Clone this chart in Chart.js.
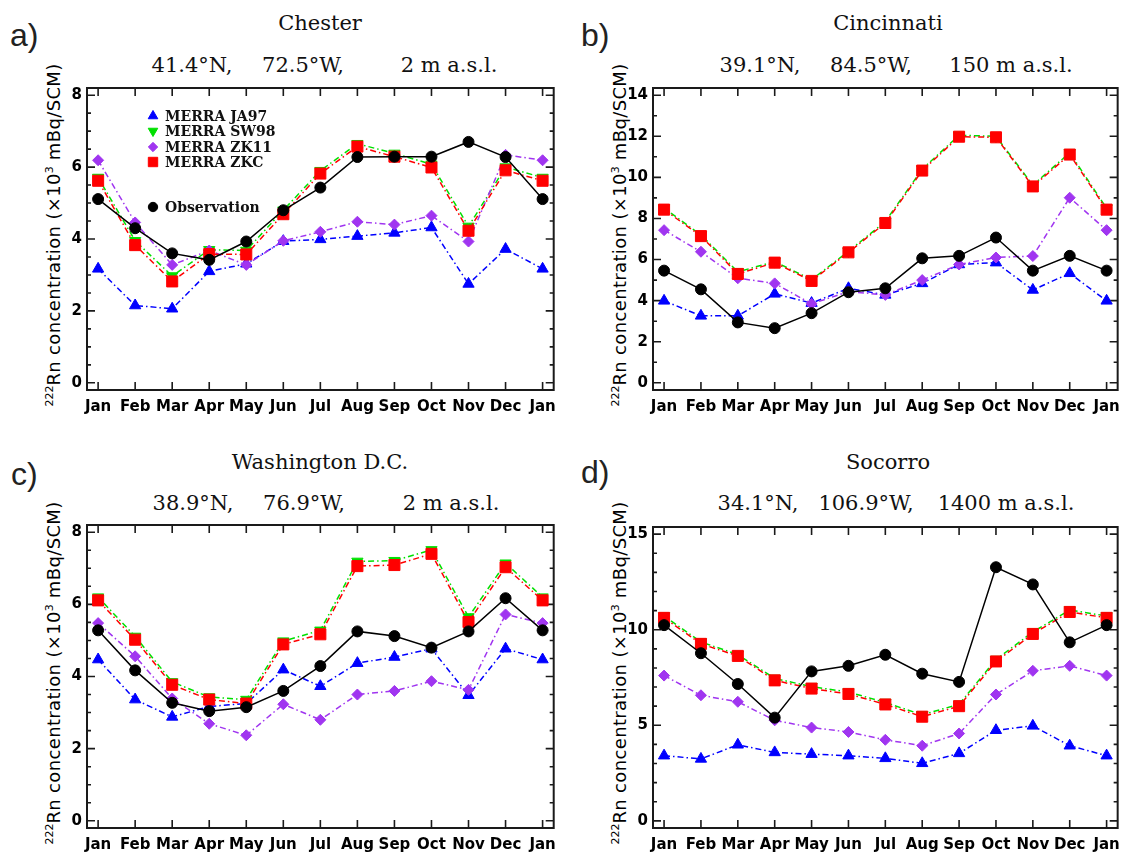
<!DOCTYPE html>
<html>
<head>
<meta charset="utf-8">
<script src="https://cdn.jsdelivr.net/npm/chart.js@4.4.1/dist/chart.umd.min.js"></script>
<style>
body { margin: 0; background: #fff; width: 1128px; height: 856px; position: relative; overflow: hidden; }
.panel { position: absolute; }
.letter { position: absolute; font: 32px "Liberation Sans"; color: #222; line-height: 1; }
.site, .coord, .ytitle { position: absolute; white-space: pre; color: #111; line-height: 1; }
.site, .coord { transform: translate(-50%, -50%); font: 21px "DejaVu Serif"; }
.ytitle { transform: translate(-50%, -50%) rotate(-90deg); font: 18px "DejaVu Sans"; letter-spacing: 0.35px; color: #000; }
.ytitle sup { font-size: 11px; letter-spacing: 0; vertical-align: 7px; line-height: 0; }
</style>
</head>
<body>

<div class="letter" style="left:10px;top:19px">a)</div>
<div class="site" style="left:320px;top:23px">Chester</div>
<div class="coord" style="left:192px;top:65px">41.4°N,</div>
<div class="coord" style="left:303px;top:65px">72.5°W,</div>
<div class="coord" style="left:449px;top:65px">2 m a.s.l.</div>
<div class="ytitle" style="left:53px;top:235px"><sup>222</sup>Rn concentration (×10<sup>3</sup> mBq/SCM)</div>

<div class="letter" style="left:581px;top:19px">b)</div>
<div class="site" style="left:888px;top:23px">Cincinnati</div>
<div class="coord" style="left:760px;top:65px">39.1°N,</div>
<div class="coord" style="left:871px;top:65px">84.5°W,</div>
<div class="coord" style="left:1011px;top:65px">150 m a.s.l.</div>
<div class="ytitle" style="left:619px;top:235px"><sup>222</sup>Rn concentration (×10<sup>3</sup> mBq/SCM)</div>

<div class="letter" style="left:11px;top:458px">c)</div>
<div class="site" style="left:320px;top:462px">Washington D.C.</div>
<div class="coord" style="left:193px;top:503px">38.9°N,</div>
<div class="coord" style="left:304px;top:503px">76.9°W,</div>
<div class="coord" style="left:451px;top:503px">2 m a.s.l.</div>
<div class="ytitle" style="left:53px;top:673px"><sup>222</sup>Rn concentration (×10<sup>3</sup> mBq/SCM)</div>

<div class="letter" style="left:581px;top:456px">d)</div>
<div class="site" style="left:888px;top:462px">Socorro</div>
<div class="coord" style="left:758px;top:503px">34.1°N,</div>
<div class="coord" style="left:866px;top:503px">106.9°W,</div>
<div class="coord" style="left:1006px;top:503px">1400 m a.s.l.</div>
<div class="ytitle" style="left:619px;top:673px"><sup>222</sup>Rn concentration (×10<sup>3</sup> mBq/SCM)</div>

<div class="panel" style="left:0;top:0"><canvas id="chA" width="564" height="430"></canvas></div>
<div class="panel" style="left:564px;top:0"><canvas id="chB" width="564" height="430"></canvas></div>
<div class="panel" style="left:0;top:430px"><canvas id="chC" width="564" height="426"></canvas></div>
<div class="panel" style="left:564px;top:430px"><canvas id="chD" width="564" height="426"></canvas></div>

<script>
// months along the x axis (Jan repeated at the end)
const months = ["Jan", "Feb", "Mar", "Apr", "May", "Jun", "Jul", "Aug", "Sep", "Oct", "Nov", "Dec", "Jan"];
const seriesNames = ["MERRA JA97", "MERRA SW98", "MERRA ZK11", "MERRA ZKC", "Observation"];

// a) Chester
const chesterJA97 = [3.17, 2.15, 2.06, 3.10, 3.31, 3.94, 3.99, 4.08, 4.17, 4.32, 2.75, 3.72, 3.17];
const chesterSW98 = [5.71, 3.95, 2.97, 3.70, 3.68, 4.80, 5.90, 6.65, 6.38, 6.08, 4.35, 6.00, 5.71];
const chesterZK11 = [6.19, 4.46, 3.28, 3.68, 3.28, 3.95, 4.20, 4.48, 4.40, 4.65, 3.93, 6.34, 6.19];
const chesterZKC  = [5.62, 3.83, 2.82, 3.58, 3.57, 4.69, 5.82, 6.57, 6.29, 5.99, 4.23, 5.91, 5.62];
const chesterObs  = [5.11, 4.30, 3.60, 3.42, 3.93, 4.80, 5.43, 6.28, 6.29, 6.29, 6.70, 6.28, 5.11];

// b) Cincinnati
const cincyJA97 = [3.99, 3.26, 3.26, 4.33, 3.88, 4.60, 4.28, 4.84, 5.76, 5.85, 4.52, 5.33, 3.99];
const cincySW98 = [8.50, 7.20, 5.40, 5.90, 5.02, 6.40, 7.85, 10.40, 12.05, 12.00, 9.62, 11.20, 8.50];
const cincyZK11 = [7.43, 6.38, 5.09, 4.84, 3.84, 4.44, 4.28, 5.00, 5.76, 6.10, 6.17, 9.01, 7.43];
const cincyZKC  = [8.43, 7.14, 5.30, 5.85, 4.96, 6.35, 7.78, 10.33, 11.98, 11.95, 9.56, 11.11, 8.43];
const cincyObs  = [5.46, 4.55, 2.94, 2.66, 3.39, 4.41, 4.60, 6.06, 6.18, 7.07, 5.46, 6.18, 5.46];

// c) Washington D.C.
const washJA97 = [4.47, 3.36, 2.88, 3.17, 3.25, 4.19, 3.73, 4.37, 4.54, 4.77, 3.48, 4.77, 4.47];
const washSW98 = [6.20, 5.11, 3.85, 3.43, 3.36, 4.98, 5.28, 7.19, 7.21, 7.51, 5.65, 7.14, 6.20];
const washZK11 = [5.48, 4.56, 3.39, 2.69, 2.37, 3.23, 2.80, 3.50, 3.60, 3.87, 3.63, 5.72, 5.48];
const washZKC  = [6.11, 5.02, 3.77, 3.36, 3.25, 4.89, 5.17, 7.06, 7.09, 7.40, 5.51, 7.03, 6.11];
const washObs  = [5.28, 4.17, 3.27, 3.04, 3.15, 3.60, 4.29, 5.25, 5.12, 4.80, 5.25, 6.17, 5.28];

// d) Socorro
const socorroJA97 = [3.41, 3.24, 3.98, 3.58, 3.49, 3.41, 3.27, 3.01, 3.53, 4.74, 4.97, 3.93, 3.41];
const socorroSW98 = [10.72, 9.36, 8.70, 7.45, 7.02, 6.74, 6.19, 5.55, 6.10, 8.44, 9.88, 11.03, 10.72];
const socorroZK11 = [7.60, 6.57, 6.23, 5.26, 4.88, 4.65, 4.24, 3.93, 4.57, 6.61, 7.85, 8.11, 7.60];
const socorroZKC  = [10.62, 9.26, 8.63, 7.35, 6.92, 6.64, 6.09, 5.45, 6.00, 8.34, 9.78, 10.93, 10.62];
const socorroObs  = [10.24, 8.77, 7.16, 5.40, 7.82, 8.11, 8.69, 7.70, 7.27, 13.27, 12.37, 9.34, 10.24];

// y tick labels per panel
const yTicksA = [0, 2, 4, 6, 8];
const yTicksB = [0, 2, 4, 6, 8, 10, 12, 14];
const yTicksC = [0, 2, 4, 6, 8];
const yTicksD = [0, 5, 10, 15];

// line styles for the five series
const styles = [
    { color: "#0000ff", pointStyle: "triangle", radius: 6.5, rotation: 0, dash: [6, 3, 1.5, 3], dashOffset: 0, order: 4 },
    { color: "#00e000", pointStyle: "triangle", radius: 6.5, rotation: 180, dash: [6, 3, 1.5, 3], dashOffset: 5, order: 3 },
    { color: "#a035f0", pointStyle: "rectRot", radius: 5.5, rotation: 0, dash: [6, 3, 1.5, 3], dashOffset: 0, order: 2 },
    { color: "#ff0000", pointStyle: "rect", radius: 7.8, rotation: 0, dash: [6, 3, 1.5, 3], dashOffset: 0, order: 1 },
    { color: "#000000", pointStyle: "circle", radius: 5.5, rotation: 0, dash: [], dashOffset: 0, order: 0 }
];

// box with inward ticks on all four sides
const framePlugin = {
    id: "frame",
    beforeDatasetsDraw(chart, args, opts) {
        const { ctx, chartArea: a, scales: { x, y } } = chart;
        ctx.save();
        ctx.strokeStyle = "#1a1a1a";
        ctx.lineWidth = 1.6;
        ctx.beginPath();
        x.ticks.forEach(t => {
            const px = x.getPixelForValue(t.value);
            ctx.moveTo(px, a.bottom); ctx.lineTo(px, a.bottom - 8);
            ctx.moveTo(px, a.top); ctx.lineTo(px, a.top + 8);
        });
        const n = Math.round(opts.top / opts.minor);
        for (let i = 0; i <= n; i++) {
            const v = i * opts.minor;
            const isMajor = Math.abs(v / opts.major - Math.round(v / opts.major)) < 1e-6;
            const len = isMajor ? 8 : 4;
            const py = y.getPixelForValue(v);
            ctx.moveTo(a.left, py); ctx.lineTo(a.left + len, py);
            ctx.moveTo(a.right, py); ctx.lineTo(a.right - len, py);
        }
        ctx.stroke();
        ctx.lineWidth = 2;
        ctx.strokeRect(a.left, a.top, a.right - a.left, a.bottom - a.top);
        ctx.restore();
    }
};

// legend drawn inside panel a
const innerLegend = {
    id: "innerLegend",
    afterDraw(chart, args, opts) {
        if (!opts.rows) return;
        const ctx = chart.ctx;
        ctx.save();
        ctx.font = "bold 14px 'DejaVu Serif'";
        ctx.textBaseline = "middle";
        chart.data.datasets.forEach((ds, i) => {
            const rowY = opts.rows[i];
            ctx.fillStyle = ds.pointBackgroundColor;
            ctx.strokeStyle = ds.pointBackgroundColor;
            Chart.helpers.drawPoint(ctx, {
                pointStyle: ds.pointStyle,
                radius: ds.pointRadius * 0.85,
                rotation: ds.pointRotation,
                borderWidth: 1
            }, opts.markerX, rowY);
            ctx.fillStyle = "#111";
            ctx.fillText(ds.label, opts.textX, rowY + 1);
        });
        ctx.restore();
    }
};

function makePanel(id, area, w, h, yTicks, minor, series, legend) {
    const top = yTicks[yTicks.length - 1];
    const pad = top * 0.025;
    const datasets = series.map((vals, i) => ({
        label: seriesNames[i],
        data: vals.map((v, k) => ({ x: k, y: v })),
        borderColor: styles[i].color,
        borderWidth: 1.5,
        borderDash: styles[i].dash,
        borderDashOffset: styles[i].dashOffset,
        pointStyle: styles[i].pointStyle,
        pointRadius: styles[i].radius,
        pointRotation: styles[i].rotation,
        pointBackgroundColor: styles[i].color,
        pointBorderColor: styles[i].color,
        pointBorderWidth: 1,
        tension: 0,
        fill: false,
        order: styles[i].order
    }));

    new Chart(document.getElementById(id), {
        type: "line",
        data: { datasets: datasets },
        options: {
            responsive: false,
            animation: false,
            devicePixelRatio: 1,
            layout: { padding: { left: 0, top: area.top, right: w - area.right, bottom: 0 } },
            plugins: {
                legend: { display: false },
                tooltip: { enabled: false },
                frame: { top: top, major: yTicks[1] - yTicks[0], minor: minor },
                innerLegend: legend || {}
            },
            scales: {
                x: {
                    type: "linear",
                    min: -0.3,
                    max: 12.3,
                    afterBuildTicks: scale => { scale.ticks = months.map((m, i) => ({ value: i })); },
                    afterFit: scale => { scale.height = h - area.bottom; },
                    grid: { display: false, drawTicks: false },
                    border: { display: false },
                    ticks: {
                        autoSkip: false,
                        maxRotation: 0,
                        padding: 8,
                        color: "#000",
                        font: { family: "DejaVu Sans", size: 15, weight: "bold" },
                        callback: value => months[Math.round(value)]
                    }
                },
                y: {
                    min: -pad,
                    max: top + pad,
                    afterBuildTicks: scale => { scale.ticks = yTicks.map(v => ({ value: v })); },
                    afterFit: scale => { scale.width = area.left; },
                    grid: { display: false, drawTicks: false },
                    border: { display: false },
                    ticks: {
                        padding: 5,
                        color: "#000",
                        font: { family: "DejaVu Sans", size: 15, weight: "bold" }
                    }
                }
            }
        },
        plugins: [framePlugin, innerLegend]
    });
}

makePanel("chA", { left: 87, right: 555, top: 88, bottom: 390 }, 564, 430, yTicksA, 0.5,
    [chesterJA97, chesterSW98, chesterZK11, chesterZKC, chesterObs],
    { rows: [116, 131, 147, 162, 207], markerX: 153, textX: 165 });
makePanel("chB", { left: 89, right: 557, top: 88, bottom: 390 }, 564, 430, yTicksB, 1,
    [cincyJA97, cincySW98, cincyZK11, cincyZKC, cincyObs]);
makePanel("chC", { left: 87, right: 555, top: 95, bottom: 398 }, 564, 426, yTicksC, 0.5,
    [washJA97, washSW98, washZK11, washZKC, washObs]);
makePanel("chD", { left: 89, right: 557, top: 97, bottom: 398 }, 564, 426, yTicksD, 1,
    [socorroJA97, socorroSW98, socorroZK11, socorroZKC, socorroObs]);
</script>
</body>
</html>
